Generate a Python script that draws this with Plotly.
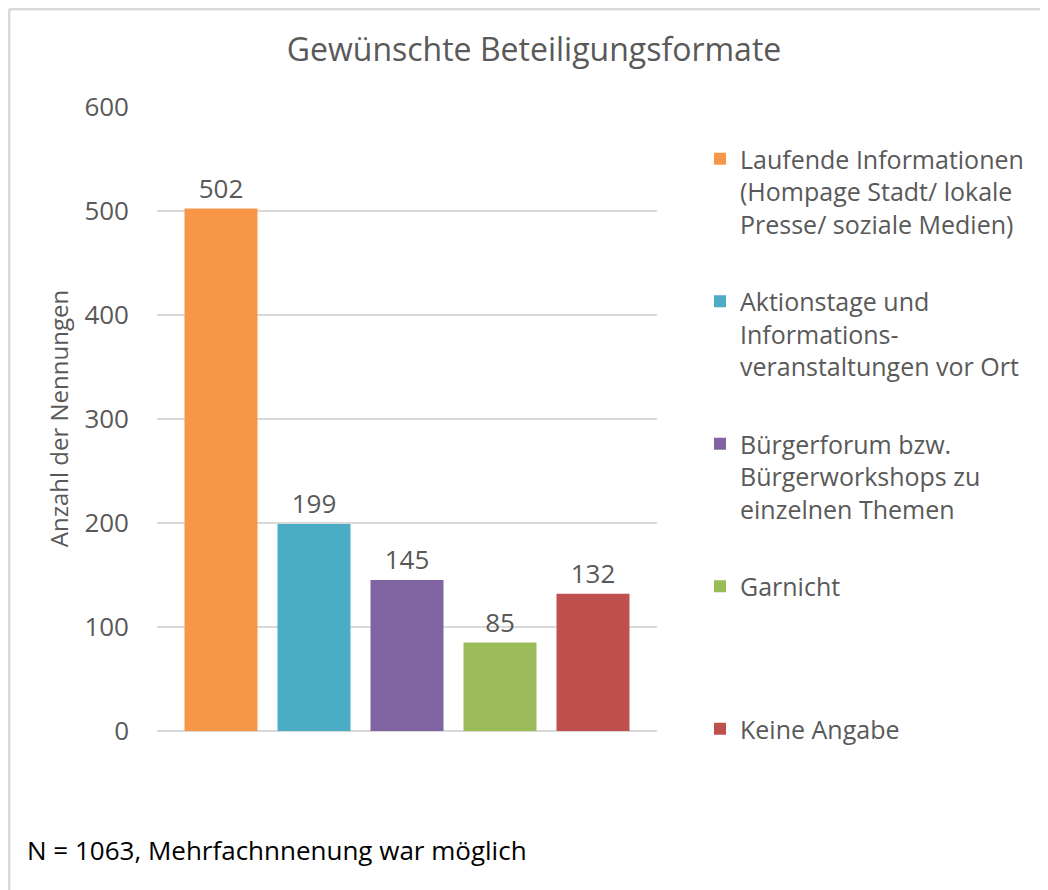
import plotly.graph_objects as go

series_names = [
    "Laufende Informationen<br>(Hompage Stadt/ lokale<br>Presse/ soziale Medien)",
    "Aktionstage und<br>Informations-<br>veranstaltungen vor Ort",
    "Bürgerforum bzw.<br>Bürgerworkshops zu<br>einzelnen Themen",
    "Garnicht<br> <br> ",
    "Keine Angabe",
]
values = [502, 199, 145, 85, 132]
colors = ["#F79646", "#4BACC6", "#8064A2", "#9BBB59", "#C0504D"]
category = ["Beteiligungsformate"]

OFF = 8  # page body margin
W, H = 1048 - OFF, 890 - OFF
L, R, T, B = 157 - OFF, 657 - OFF, 106 - OFF, 731 - OFF

def px(xp):
    return (xp - OFF - L) / (R - L)

def py(yp):
    return (B - (yp - OFF)) / (B - T)

FONT = "Open Sans"
GRAY = "#595959"

fig = go.Figure()
for i, (name, v, c) in enumerate(zip(series_names, values, colors)):
    fig.add_trace(go.Bar(
        x=category, y=[v], name=name, marker_color=c, marker_line_width=0,
        text=[str(v)], textposition="outside", cliponaxis=False,
        textfont=dict(family=FONT, size=26, color=GRAY),
        legendgroup=f"g{i}",
    ))

fig.update_layout(
    width=W, height=H,
    margin=dict(l=L, r=W - R, t=T, b=H - B),
    paper_bgcolor="white", plot_bgcolor="white",
    barmode="group", bargap=0.07, bargroupgap=0.215,
    font=dict(family=FONT, color=GRAY),
    title=dict(text="Gewünschte Beteiligungsformate", x=px(534), xanchor="center", xref="paper",
               y=1 - (50 - OFF) / H, yanchor="middle", yref="container",
               font=dict(family=FONT, size=32, color=GRAY)),
    showlegend=True,
    legend=dict(x=px(700), xanchor="left", y=py(136), yanchor="top",
                traceorder="grouped", tracegroupgap=42, valign="top",
                font=dict(family=FONT, size=25, color=GRAY),
                bgcolor="rgba(0,0,0,0)"),
    xaxis=dict(showticklabels=False, showgrid=False, zeroline=False, showline=False, ticks=""),
    yaxis=dict(range=[0, 600.6], dtick=100, tick0=0, gridcolor="#D9D9D9", gridwidth=1.5,
               zeroline=True, zerolinecolor="#D9D9D9", zerolinewidth=1.5,
               showline=False, ticks="", ticklabelstandoff=27,
               tickfont=dict(family=FONT, size=26, color=GRAY),
               title=dict(text="Anzahl der Nennungen", standoff=8,
                          font=dict(family=FONT, size=24, color=GRAY))),
    annotations=[dict(text="N = 1063, Mehrfachnnenung war möglich", xref="paper", yref="paper",
                      x=px(25), y=py(850), xanchor="left", yanchor="middle", showarrow=False,
                      font=dict(family=FONT, size=26, color="black"))],
    shapes=[
        dict(type="line", xref="paper", yref="paper", x0=px(9), x1=px(1048), y0=py(9.2), y1=py(9.2),
             line=dict(color="#D9D9D9", width=2.4)),
        dict(type="line", xref="paper", yref="paper", x0=px(9.2), x1=px(9.2), y0=py(9), y1=py(890),
             line=dict(color="#D9D9D9", width=2.4)),
    ],
)

fig.write_html("out.html")
